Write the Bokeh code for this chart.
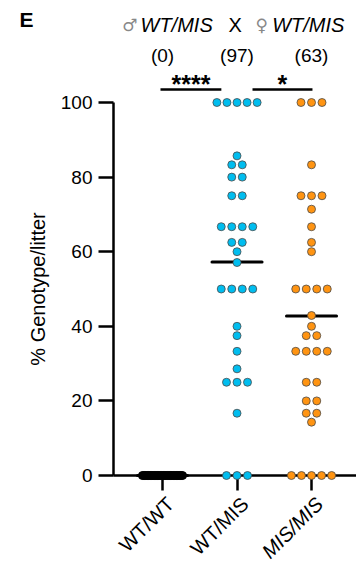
import math
import numpy as np
from bokeh.plotting import figure
from bokeh.models import Range1d, FixedTicker, Label
from bokeh.embed import file_html
from bokeh.resources import INLINE

# ---------------- data ----------------
categories = ["WT/WT", "WT/MIS", "MIS/MIS"]
category_italic = [False, False, True]
counts = ["(0)", "(97)", "(63)"]
colors = ["#000000", "#00BDEF", "#FF9412"]
outline_colors = ["#000000", "#4a4a4a", "#4a4a4a"]

wt_wt = [0, 0, 0, 0, 0, 0, 0, 0, 0, 0, 0, 0, 0, 0, 0, 0, 0, 0,
         0, 0, 0, 0, 0, 0, 0, 0, 0, 0, 0, 0, 0, 0, 0, 0, 0]
wt_mis = [100, 100, 100, 100, 100, 85.7, 83.3, 83.3, 80, 80, 75, 75,
          66.7, 66.7, 66.7, 66.7, 62.5, 62.5, 60, 57.1, 50, 50, 50, 50,
          40, 37.5, 33.3, 28.6, 25, 25, 25, 16.7, 0, 0, 0]
mis_mis = [100, 100, 100, 83.3, 75, 75, 75, 71.4, 66.7, 62.5, 60,
           50, 50, 50, 50, 42.9, 40, 37.5, 37.5, 33.3, 33.3, 33.3, 33.3,
           25, 25, 20, 20, 16.7, 16.7, 14.3, 0, 0, 0, 0, 0]
series = [wt_wt, wt_mis, mis_mis]

y_ticks = [0, 20, 40, 60, 80, 100]
comparisons = [("****", 0.973, 1.79), ("*", 2.208, 3.013)]

FONT = "Liberation Sans"
X_LEFT = 0.3423   # where the y axis sits (x data)
X_RIGHT = 3.604

# ---------------- figure ----------------
p = figure(width=356, height=563, output_backend="svg", toolbar_location=None,
           x_range=Range1d(-1.1745, X_RIGHT), y_range=Range1d(-23.59, 127.35),
           min_border_left=0, min_border_right=0, min_border_top=0,
           min_border_bottom=0)
p.outline_line_color = None
p.xgrid.visible = False
p.ygrid.visible = False
p.background_fill_color = "white"
p.border_fill_color = "white"

# y axis
ya = p.yaxis[0]
ya.fixed_location = X_LEFT
ya.ticker = FixedTicker(ticks=y_ticks)
ya.bounds = (0, 100)
ya.axis_line_width = 2.5
ya.major_tick_line_width = 2.5
ya.major_tick_out = 15
ya.major_tick_in = 0
ya.minor_tick_line_color = None
ya.major_label_text_font = FONT
ya.major_label_text_font_size = "19px"
ya.major_label_text_color = "black"
ya.major_label_standoff = 6
ya.axis_label = "% Genotype/litter"
ya.axis_label_text_font = FONT
ya.axis_label_text_font_size = "20px"
ya.axis_label_text_font_style = "normal"
ya.axis_label_text_color = "black"
ya.axis_label_standoff = 9

# x axis (line + ticks; labels drawn separately)
xa = p.xaxis[0]
xa.fixed_location = 0
xa.ticker = FixedTicker(ticks=[1, 2, 3])
xa.bounds = (X_LEFT, X_RIGHT)
xa.axis_line_width = 2.5
xa.major_tick_in = 0
xa.major_tick_out = 15
xa.major_tick_line_width = 2.5
xa.minor_tick_line_color = None
xa.major_label_text_font_size = "0px"
xa.major_label_text_color = None


def swarm(vals, center, step, max_half):
    vals = np.asarray(vals, float)
    xs = np.empty_like(vals)
    for v in np.unique(vals):
        idx = np.where(vals == v)[0]
        n = len(idx)
        s = step if n == 1 else min(step, 2 * max_half / (n - 1))
        xs[idx] = center + (np.arange(n) - (n - 1) / 2) * s
    return xs


for i, (vals, col, oc) in enumerate(zip(series, colors, outline_colors)):
    c = i + 1
    m = float(np.mean(vals))
    p.segment(x0=[c - 0.336], x1=[c + 0.336], y0=[m], y1=[m],
              line_color="black", line_width=3, line_cap="round",
              level="overlay")
    xs = swarm(vals, c, 0.141, 0.27)
    p.scatter(xs, vals, size=8, fill_color=col, line_color=oc,
              line_width=0.8, level="overlay")

# significance bars
for txt, x0, x1 in comparisons:
    p.segment(x0=[x0], x1=[x1], y0=[103.5], y1=[103.5], line_color="black",
              line_width=2.5)
    p.add_layout(Label(x=(x0 + x1) / 2, y=105.0, text=txt, text_font=FONT,
                       text_font_size="25px", text_font_style="bold",
                       text_color="black", text_align="center",
                       text_baseline="alphabetic"))

# counts
for i, t in enumerate(counts):
    p.add_layout(Label(x=i + 1, y=112.7, text=t, text_font=FONT,
                       text_font_size="19px", text_color="black",
                       text_align="center", text_baseline="alphabetic"))

# title pieces
title_parts = [("\u2642", 0.459, "#888888", "normal", "DejaVu Sans", "17px"),
               ("WT/MIS", 0.705, "black", "italic", FONT, "20px"),
               ("X", 1.886, "black", "normal", FONT, "20px"),
               ("\u2640", 2.248, "#888888", "normal", "DejaVu Sans", "17px"),
               ("WT/MIS", 2.472, "black", "italic", FONT, "20px")]
for txt, x, col, sty, fnt, sz in title_parts:
    p.add_layout(Label(x=x, y=120.8, text=txt, text_font=fnt,
                       text_font_size=sz, text_font_style=sty, text_color=col,
                       text_align="left", text_baseline="alphabetic"))

# panel letter
p.add_layout(Label(x=-0.919, y=122.25, text="E", text_font=FONT,
                   text_font_size="21px", text_font_style="bold",
                   text_color="black", text_align="left",
                   text_baseline="alphabetic"))

# x category labels (rotated)
for i, (cat, it) in enumerate(zip(categories, category_italic)):
    p.add_layout(Label(x=i + 1 + 0.107, y=-6.7, text=cat, text_font=FONT,
                       text_font_size="20px",
                       text_font_style="italic" if it else "normal",
                       text_color="black", angle=math.pi / 4,
                       text_align="right", text_baseline="middle"))

open("out.html", "w").write(file_html(p, INLINE))
